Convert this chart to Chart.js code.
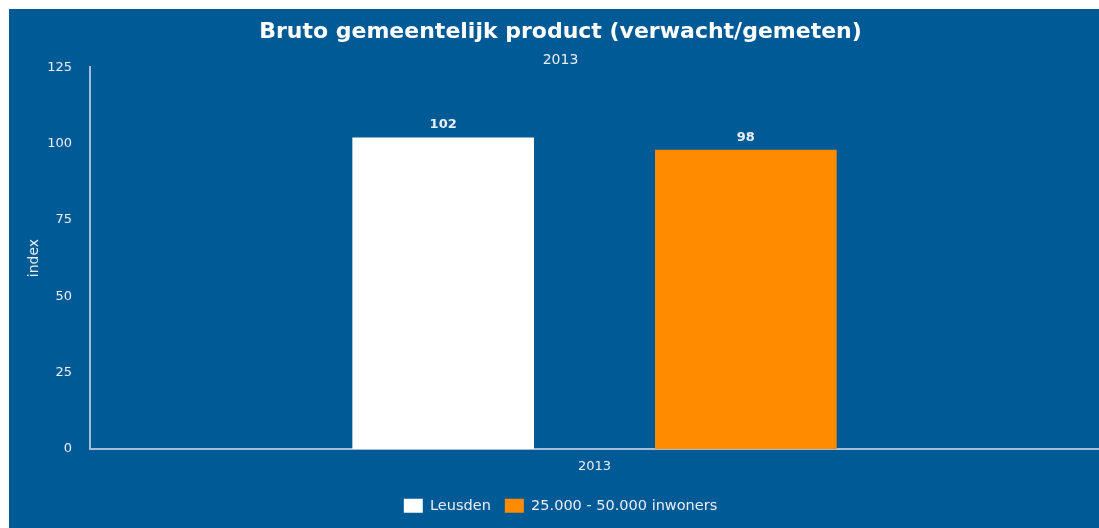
<!DOCTYPE html>
<html>
<head>
<meta charset="utf-8">
<script src="https://cdn.jsdelivr.net/npm/chart.js@4"></script>
<style>
  html, body { margin: 0; padding: 0; background: #fff; }
  #wrap { position: absolute; left: 9px; top: 9px; width: 1090px; height: 519px; background: #005a95; }
</style>
</head>
<body>
<div id="wrap"><canvas id="chartBgp"></canvas></div>
<script>
// data
const categories = ['2013'];
const seriesNames = ['Leusden', '25.000 - 50.000 inwoners'];
const leusdenValues = [102];
const klasseValues = [98];
const yTicks = [0, 25, 50, 75, 100, 125];

const txt = '#e8eef5';
const axisColor = '#a3bdd6';

// labels boven de balken
const valueLabels = {
  id: 'valueLabels',
  afterDatasetsDraw(chart) {
    const ctx = chart.ctx;
    ctx.save();
    ctx.font = 'bold 13px "DejaVu Sans"';
    ctx.fillStyle = txt;
    ctx.textAlign = 'center';
    ctx.textBaseline = 'bottom';
    chart.data.datasets.forEach(function (ds, i) {
      chart.getDatasetMeta(i).data.forEach(function (bar, j) {
        ctx.fillText(ds.data[j], bar.x, bar.y - 6);
      });
    });
    ctx.restore();
  }
};

Chart.defaults.font.family = '"DejaVu Sans", sans-serif';
Chart.defaults.color = txt;

new Chart(document.getElementById('chartBgp'), {
  type: 'bar',
  data: {
    labels: categories,
    datasets: [
      { label: seriesNames[0], data: leusdenValues, backgroundColor: '#ffffff' },
      { label: seriesNames[1], data: klasseValues, backgroundColor: '#ff8c00' }
    ]
  },
  plugins: [valueLabels],
  options: {
    responsive: true,
    maintainAspectRatio: false,
    animation: false,
    categoryPercentage: 0.6,
    barPercentage: 0.6,
    layout: { padding: { left: 13, right: 0, top: 0, bottom: 5 } },
    plugins: {
      title: {
        display: true,
        text: 'Bruto gemeentelijk product (verwacht/gemeten)',
        color: '#ffffff',
        font: { size: 22, weight: 'bold' },
        padding: { top: 10, bottom: 4 }
      },
      subtitle: {
        display: true,
        text: '2013',
        color: txt,
        font: { size: 14 },
        padding: { top: 3, bottom: -2 }
      },
      legend: {
        position: 'bottom',
        labels: { boxWidth: 19, boxHeight: 14, font: { size: 14.5 }, color: txt, padding: 14 }
      },
      tooltip: { enabled: false }
    },
    scales: {
      x: {
        grid: { display: false, drawTicks: false },
        border: { display: true, color: axisColor, width: 2 },
        ticks: { font: { size: 13 }, color: txt, padding: 10 }
      },
      y: {
        min: 0,
        max: 125,
        afterBuildTicks: function (axis) { axis.ticks = yTicks.map(v => ({ value: v })); },
        afterFit: function (axis) { axis.width = 68; },
        grid: { display: false, drawTicks: false },
        border: { display: true, color: axisColor, width: 2 },
        ticks: { font: { size: 13 }, color: txt, padding: 18 },
        title: { display: true, text: 'index', color: txt, font: { size: 14 }, padding: 4 }
      }
    }
  }
});
</script>
</body>
</html>
